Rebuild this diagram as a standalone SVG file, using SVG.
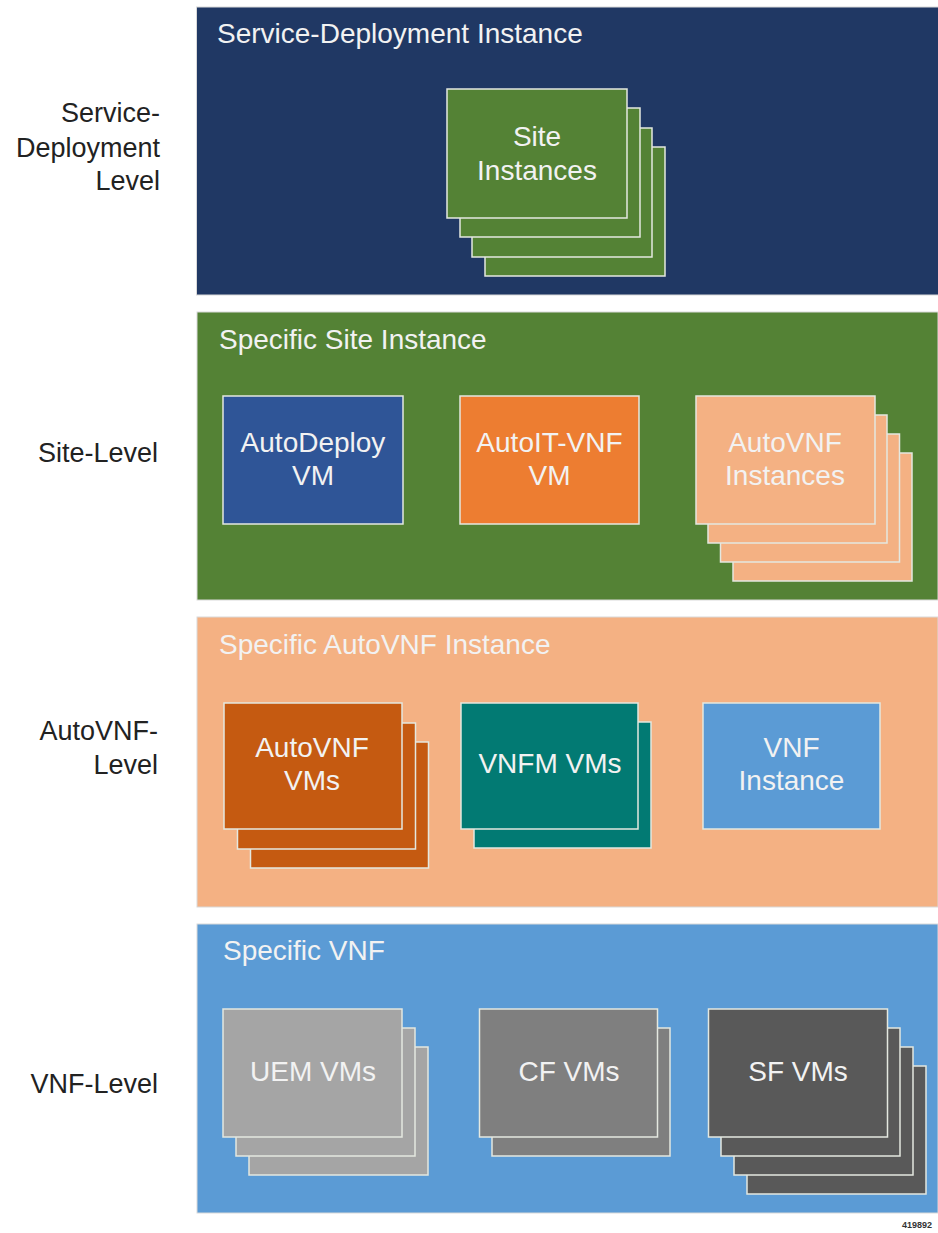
<svg xmlns="http://www.w3.org/2000/svg" width="938" height="1233" viewBox="0 0 938 1233">
<style>
  text { font-family: "Liberation Sans", Arial, sans-serif; }
  .lvl { font-size: 27px; fill: #222222; text-anchor: end; }
  .ttl { font-size: 28px; fill: #F2F2F2; }
  .lbl { font-size: 28px; fill: #F2F2F2; text-anchor: middle; }
  .panel { stroke: #D9D9D9; stroke-width: 1; }
  .card { stroke: #E4E8E0; stroke-width: 1.5; }
  .tag { font-size: 9px; font-weight: bold; fill: #333333; text-anchor: end; }
</style>
<rect x="0" y="0" width="938" height="1233" fill="#FFFFFF"/>

<g id="level-labels">
  <text class="lvl" x="160" y="122">Service-</text>
  <text class="lvl" x="160" y="157">Deployment</text>
  <text class="lvl" x="160" y="190">Level</text>
  <text class="lvl" x="158" y="462">Site-Level</text>
  <text class="lvl" x="158" y="740">AutoVNF-</text>
  <text class="lvl" x="158" y="774">Level</text>
  <text class="lvl" x="158" y="1093">VNF-Level</text>
</g>

<g id="panel-service-deployment">
  <rect class="panel" x="196.5" y="7" width="742" height="288" fill="#203864"/>
  <text class="ttl" x="217" y="43">Service-Deployment Instance</text>
</g>
<g id="node-site-instances">
  <rect class="card" x="485" y="147" width="180" height="129" fill="#548235"/>
  <rect class="card" x="472" y="128" width="180" height="129" fill="#548235"/>
  <rect class="card" x="460" y="108" width="180" height="129" fill="#548235"/>
  <rect class="card" x="447" y="89" width="180" height="129" fill="#548235"/>
  <text class="lbl" x="537" y="146">Site</text>
  <text class="lbl" x="537" y="180">Instances</text>
</g>

<g id="panel-site">
  <rect class="panel" x="197" y="312" width="741" height="288" fill="#548235"/>
  <text class="ttl" x="219" y="349">Specific Site Instance</text>
</g>
<g id="node-autodeploy-vm">
  <rect class="card" x="223" y="396" width="180" height="128" fill="#2F5597"/>
  <text class="lbl" x="313" y="452">AutoDeploy</text>
  <text class="lbl" x="313" y="485">VM</text>
</g>
<g id="node-autoit-vnf-vm">
  <rect class="card" x="460" y="396" width="179" height="128" fill="#ED7D31"/>
  <text class="lbl" x="549.5" y="452">AutoIT-VNF</text>
  <text class="lbl" x="549.5" y="485">VM</text>
</g>
<g id="node-autovnf-instances">
  <rect class="card" x="733" y="453" width="179" height="128" fill="#F4B183"/>
  <rect class="card" x="720.5" y="434" width="179" height="128" fill="#F4B183"/>
  <rect class="card" x="708" y="415" width="179" height="128" fill="#F4B183"/>
  <rect class="card" x="696" y="396" width="179" height="128" fill="#F4B183"/>
  <text class="lbl" x="785" y="452">AutoVNF</text>
  <text class="lbl" x="785" y="485">Instances</text>
</g>

<g id="panel-autovnf">
  <rect class="panel" x="197" y="617" width="741" height="290" fill="#F4B183"/>
  <text class="ttl" x="219" y="654">Specific AutoVNF Instance</text>
</g>
<g id="node-autovnf-vms">
  <rect class="card" x="250.5" y="742" width="178" height="126" fill="#C55A11"/>
  <rect class="card" x="237.5" y="723" width="178" height="126" fill="#C55A11"/>
  <rect class="card" x="224" y="703" width="178" height="126" fill="#C55A11"/>
  <text class="lbl" x="312" y="757">AutoVNF</text>
  <text class="lbl" x="312" y="790">VMs</text>
</g>
<g id="node-vnfm-vms">
  <rect class="card" x="474" y="722" width="177" height="126" fill="#027A73"/>
  <rect class="card" x="461" y="703" width="177" height="126" fill="#027A73"/>
  <text class="lbl" x="550" y="773">VNFM VMs</text>
</g>
<g id="node-vnf-instance">
  <rect class="card" x="703" y="703" width="177" height="126" fill="#5B9BD5"/>
  <text class="lbl" x="791.5" y="757">VNF</text>
  <text class="lbl" x="791.5" y="790">Instance</text>
</g>

<g id="panel-vnf">
  <rect class="panel" x="197" y="924" width="741" height="289" fill="#5B9BD5"/>
  <text class="ttl" x="223" y="960">Specific VNF</text>
</g>
<g id="node-uem-vms">
  <rect class="card" x="249" y="1047" width="179" height="128" fill="#A5A5A5"/>
  <rect class="card" x="236" y="1028" width="179" height="128" fill="#A5A5A5"/>
  <rect class="card" x="223" y="1009" width="179" height="128" fill="#A5A5A5"/>
  <text class="lbl" x="313" y="1081">UEM VMs</text>
</g>
<g id="node-cf-vms">
  <rect class="card" x="492" y="1028" width="178" height="128" fill="#7F7F7F"/>
  <rect class="card" x="479.5" y="1009" width="178" height="128" fill="#7F7F7F"/>
  <text class="lbl" x="569" y="1081">CF VMs</text>
</g>
<g id="node-sf-vms">
  <rect class="card" x="747" y="1066" width="179" height="128" fill="#595959"/>
  <rect class="card" x="734" y="1047" width="179" height="128" fill="#595959"/>
  <rect class="card" x="721" y="1028" width="179" height="128" fill="#595959"/>
  <rect class="card" x="708.5" y="1009" width="179" height="128" fill="#595959"/>
  <text class="lbl" x="798" y="1081">SF VMs</text>
</g>

<g id="connectors"></g>

<text class="tag" x="932" y="1228">419892</text>
</svg>
